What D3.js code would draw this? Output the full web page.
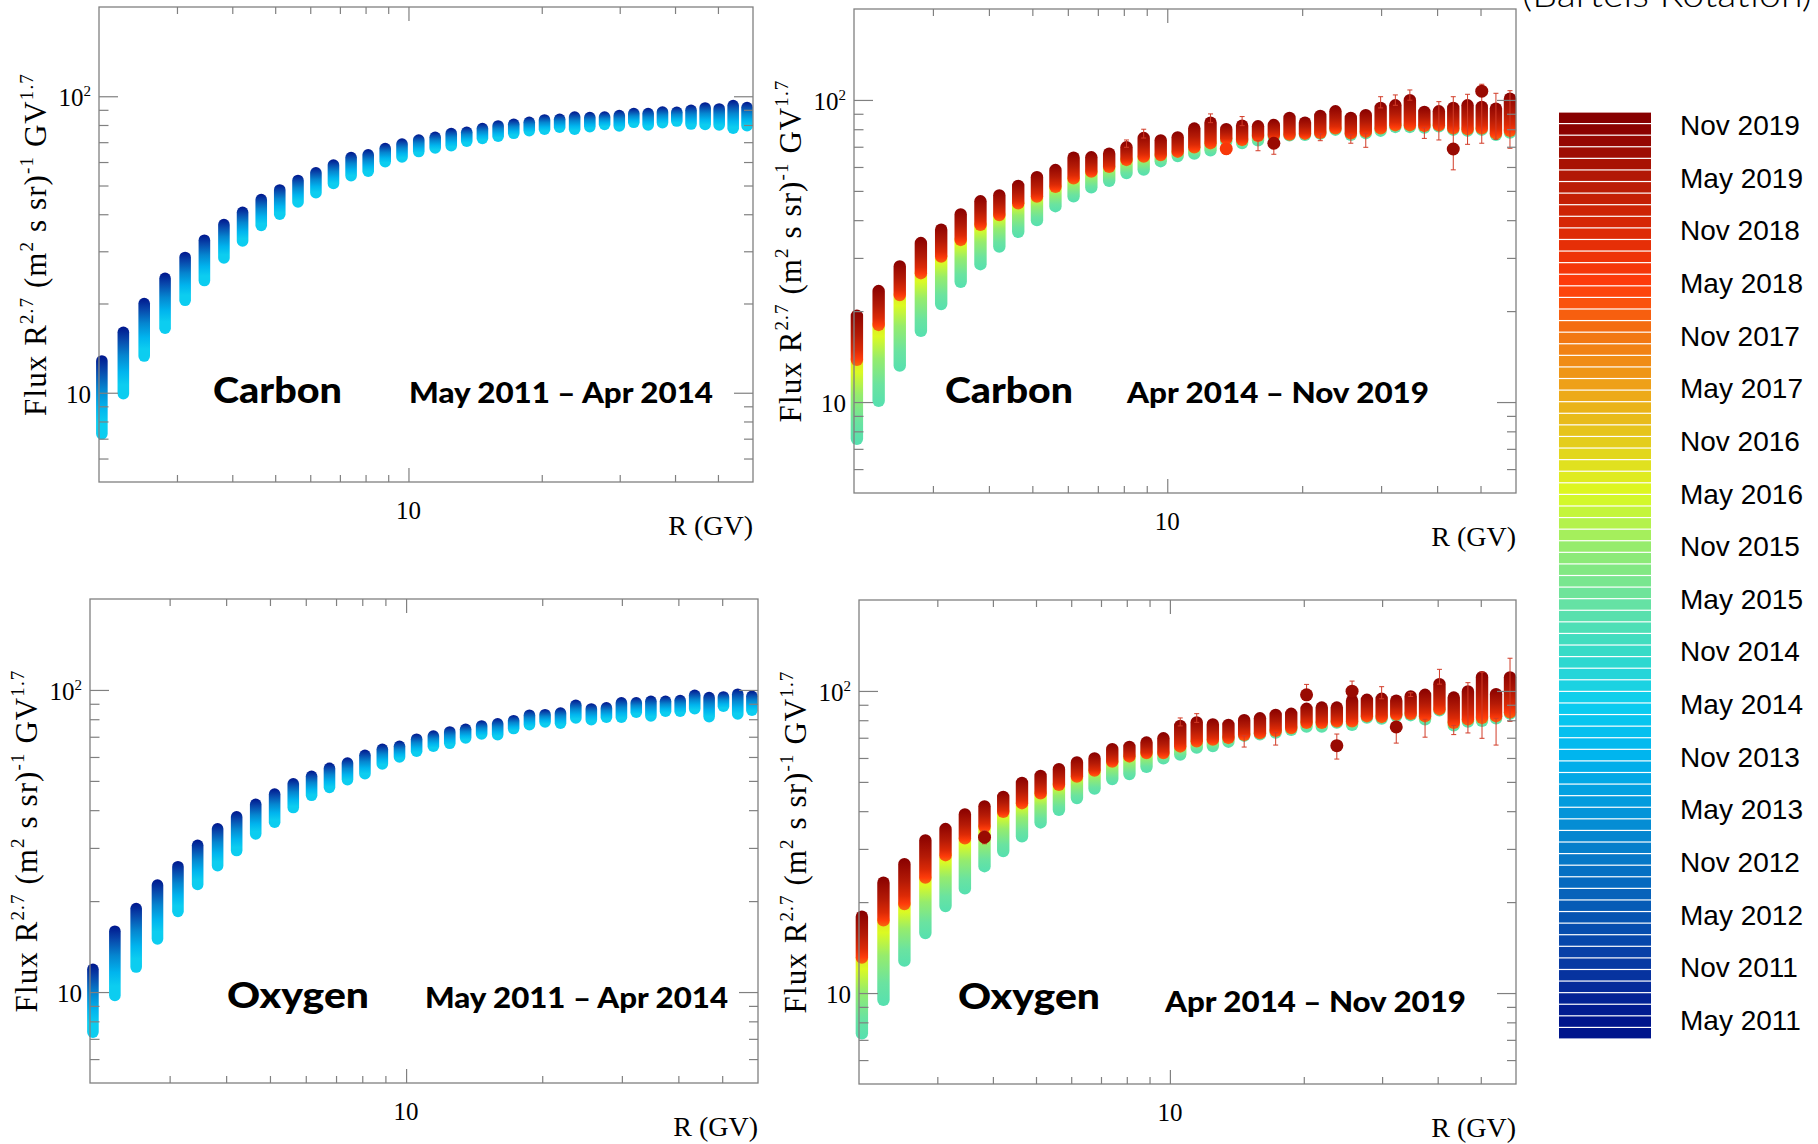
<!DOCTYPE html>
<meta charset="utf-8">
<style>
body { margin: 0; background: #fff; }
</style>
<body>
<script src="https://d3js.org/d3.v7.min.js"></script>
<script>
// rigidity bin centres (GV), shared by all four panels
var rigidity = [2.03, 2.27, 2.53, 2.82, 3.13, 3.46, 3.83, 4.22, 4.65, 5.12,
                5.63, 6.18, 6.77, 7.42, 8.11, 8.86, 9.67, 10.55, 11.49, 12.49,
                13.54, 14.69, 15.94, 17.29, 18.74, 20.29, 21.95, 23.73, 25.68, 27.73,
                29.93, 32.28, 34.78, 37.47, 40.37, 43.47, 46.78, 50.32, 54.12, 58.17];

// May 2011 - Apr 2014 : highest (earliest) and lowest (latest) flux of each bin
var carbonEarlyHi = [12.8, 16.0, 20.0, 24.3, 28.6, 32.7, 36.9, 40.6, 44.8, 48.3,
                     52.0, 55.2, 58.6, 62.1, 63.5, 66.6, 69.0, 71.2, 72.7, 74.8,
                     75.6, 77.8, 79.4, 80.4, 81.7, 83.2, 83.6, 85.1, 84.7, 85.1,
                     86.0, 87.4, 87.4, 88.5, 88.3, 89.7, 91.3, 90.6, 93.0, 91.6];
var carbonEarlyLo = [7.27, 9.93, 13.3, 16.5, 20.5, 23.9, 28.5, 32.5, 36.7, 40.0,
                     44.0, 47.3, 50.8, 54.0, 55.9, 60.2, 62.4, 65.1, 66.9, 68.1,
                     70.6, 72.1, 73.3, 75.0, 76.6, 77.4, 78.6, 77.4, 79.0, 80.4,
                     79.4, 81.7, 80.0, 81.5, 82.5, 80.6, 80.3, 80.0, 78.0, 79.6];
var oxygenEarlyHi = [11.9, 15.9, 18.9, 22.6, 26.0, 30.6, 34.7, 38.0, 41.8, 45.2,
                     48.9, 51.8, 55.0, 57.3, 60.8, 63.6, 65.1, 68.7, 70.4, 72.6,
                     74.1, 76.0, 77.3, 79.1, 82.5, 82.8, 83.9, 89.0, 86.5, 87.2,
                     90.6, 90.6, 91.7, 91.7, 92.2, 96.0, 94.3, 94.8, 96.8, 95.3];
var oxygenEarlyLo = [7.37, 9.75, 12.1, 15.0, 18.5, 22.7, 26.2, 29.4, 33.4, 36.5,
                     40.8, 44.8, 47.6, 50.5, 52.8, 56.9, 60.0, 62.7, 65.1, 66.6,
                     69.4, 71.5, 71.1, 74.5, 76.7, 78.4, 77.6, 80.8, 79.7, 81.2,
                     81.2, 84.4, 82.0, 85.0, 85.0, 86.7, 81.6, 88.3, 83.3, 85.7];

// Apr 2014 - Nov 2019 : top (2019), boundary between 2014-16 and 2016-19 points, bottom (2014-15)
var carbonLateHi = [19.3, 23.3, 28.1, 33.6, 37.2, 41.8, 46.2, 48.3, 51.9, 55.5,
                    58.6, 64.4, 64.6, 66.4, 69.7, 74.8, 73.5, 75.2, 80.4, 84.1,
                    80.0, 82.2, 81.8, 82.6, 87.2, 84.1, 88.5, 91.7, 87.2, 89.0,
                    94.1, 96.0, 99.8, 91.3, 91.7, 94.1, 96.0, 94.8, 93.6, 101.0];
var carbonLateMid = [13.8, 18.0, 22.6, 26.7, 30.3, 34.4, 38.6, 41.6, 45.5, 47.9,
                     51.6, 55.0, 57.9, 60.1, 63.3, 64.9, 65.7, 67.4, 69.7, 71.9,
                     74.5, 73.7, 76.0, 76.5, 76.8, 77.3, 77.8, 80.5, 77.5, 78.5,
                     80.5, 82.5, 82.5, 82.0, 82.5, 80.5, 80.0, 80.5, 77.5, 79.0];
var carbonLateLo = [7.56, 10.1, 13.2, 17.2, 21.1, 25.0, 28.6, 32.7, 36.6, 40.0,
                    44.5, 48.0, 51.4, 54.0, 57.3, 58.8, 62.7, 65.2, 66.4, 68.1,
                    73.0, 72.0, 73.5, 75.4, 76.4, 76.7, 77.3, 79.7, 76.7, 77.6,
                    79.1, 81.4, 81.4, 81.0, 81.8, 79.7, 79.1, 79.7, 76.7, 78.0];
var oxygenLateHi = [17.9, 23.2, 26.7, 32.0, 34.9, 39.0, 41.5, 44.6, 49.6, 52.3,
                    55.1, 58.0, 59.8, 64.2, 65.3, 67.5, 69.7, 76.6, 78.7, 77.5,
                    77.2, 80.0, 81.2, 83.3, 84.0, 87.3, 88.1, 88.1, 92.8, 93.5,
                    94.2, 92.8, 95.9, 97.1, 105.3, 95.1, 99.6, 111.1, 97.6, 110.9];
var oxygenLateMid = [13.1, 17.4, 19.7, 24.1, 28.6, 32.5, 35.5, 39.8, 42.5, 45.8,
                     48.9, 52.1, 54.5, 58.4, 60.7, 62.3, 62.3, 65.5, 68.1, 69.0,
                     69.9, 71.6, 72.5, 73.8, 75.4, 78.4, 78.4, 79.3, 79.3, 82.5,
                     82.0, 83.5, 84.0, 82.5, 87.0, 78.4, 80.5, 81.4, 82.5, 85.0];
var oxygenLateLo = [7.36, 9.50, 12.8, 15.8, 19.4, 22.2, 26.3, 29.5, 33.0, 36.7,
                    40.4, 44.2, 47.5, 51.1, 53.1, 56.1, 59.8, 61.6, 64.9, 65.7,
                    67.9, 71.1, 71.8, 72.8, 74.3, 76.2, 76.2, 78.6, 77.2, 81.6,
                    81.0, 82.7, 83.1, 80.6, 86.3, 76.9, 79.2, 79.6, 81.2, 84.1];

// error bars [R, from, to] and isolated points [R, flux, period index on the colour bar]
var carbonLateWhiskers = [[8.11, 69.7, 73.7], [8.86, 74.8, 80.0], [12.49, 84.1, 89.9], [13.54, 66.1, 69.0],
                          [14.69, 82.2, 88.1], [15.94, 67.9, 73.5], [17.29, 66.1, 71.9], [21.95, 73.3, 77.3],
                          [25.68, 71.9, 76.7], [27.73, 69.7, 77.6], [29.93, 94.1, 102.5], [32.28, 96.0, 103.9],
                          [34.78, 99.8, 107.9], [37.47, 74.6, 81.0], [40.37, 73.7, 98.7], [43.47, 58.7, 102.5],
                          [46.78, 71.3, 104.4], [50.32, 71.9, 112.7], [54.12, 74.1, 105.2], [58.17, 69.2, 107.3]];
var carbonLateOutliers = [[13.54, 69.0, 14.2], [17.29, 71.9, 16.6], [43.47, 68.8, 16.6], [50.32, 106.9, 16.6]];
var oxygenLateWhiskers = [[3.83, 31.2, 34.5], [10.55, 76.6, 81.4], [11.49, 78.7, 84.1], [14.69, 65.2, 71.1],
                          [17.29, 66.2, 72.8], [20.29, 97.1, 105.1], [23.73, 59.5, 72.0], [25.68, 99.8, 107.8],
                          [29.93, 94.2, 103.3], [32.28, 67.2, 76.0], [34.78, 95.9, 98.6], [37.47, 70.3, 80.6],
                          [40.37, 105.3, 117.9], [43.47, 71.7, 76.9], [46.78, 72.6, 106.5], [50.32, 69.7, 115.5],
                          [54.12, 66.2, 81.2], [58.17, 79.3, 128.3]];
var oxygenLateOutliers = [[3.83, 32.8, 16.6], [20.29, 97.1, 16.6], [23.73, 65.9, 16.6], [25.68, 99.8, 16.6], [32.28, 76.0, 16.6]];

// colour bar
var cbLabels = ["May 2011", "Nov 2011", "May 2012", "Nov 2012", "May 2013", "Nov 2013",
                "May 2014", "Nov 2014", "May 2015", "Nov 2015", "May 2016", "Nov 2016",
                "May 2017", "Nov 2017", "May 2018", "Nov 2018", "May 2019", "Nov 2019"];
var cbColors = ["#00158c", "#0838a2", "#0755b3", "#0676c6", "#0496da", "#00b4ee",
                "#0ccdf0", "#36dbc8", "#6ae3a0", "#96ec6c", "#dcfa22", "#e4cc1c",
                "#eea418", "#f27612", "#ff3c0a", "#dc2a06", "#b41a06", "#870000"];

var xTicksMinor = [3, 4, 5, 6, 7, 8, 9, 20, 30, 40, 50],
    xTicksMajor = [10],
    yTicksMinor = [6, 7, 8, 9, 20, 30, 40, 50, 60, 70, 80, 90],
    yTicksMajor = [10, 100];

var frameColour = "#808080",
    serif = "'Liberation Serif', 'DejaVu Serif', serif",
    sans = "'Liberation Sans', Arial, sans-serif";

var svg = d3.select("body").append("svg")
    .attr("width", 1818)
    .attr("height", 1144);
var defs = svg.append("defs");

var colour = d3.scaleLinear()
    .domain(d3.range(cbColors.length))
    .range(cbColors)
    .clamp(true);

function gradient(id, stops) {
  var gr = defs.append("linearGradient").attr("id", id)
      .attr("x1", 0).attr("y1", 0).attr("x2", 0).attr("y2", 1);
  gr.selectAll("stop").data(stops).enter().append("stop")
      .attr("offset", function(d) { return d[0]; })
      .attr("stop-color", function(d) { return colour(d[1]); });
}
gradient("early", [[0, 0], [0.18, 1.5], [0.4, 3.5], [0.62, 5], [0.8, 6], [1, 6]]);
gradient("lateHigh", [[0, 17], [0.45, 16], [0.72, 15], [0.88, 14], [1, 13.2]]);
gradient("lateLow", [[0, 10.6], [0.2, 10], [0.45, 9], [0.75, 8], [1, 7.6]]);

var panels = [
  {frame: [99, 753, 7, 482], hi: carbonEarlyHi, lo: carbonEarlyLo,
   name: "Carbon", span: "May 2011 \u2013 Apr 2014", nameX: 213, nameW: 129, spanX: 409, spanW: 304, nameY: 403, spanY: 403},
  {frame: [854, 1516, 9, 493], hi: carbonLateHi, mid: carbonLateMid, lo: carbonLateLo,
   whiskers: carbonLateWhiskers, outliers: carbonLateOutliers,
   name: "Carbon", span: "Apr 2014 \u2013 Nov 2019", nameX: 945, nameW: 128, spanX: 1127, spanW: 302, nameY: 403, spanY: 403},
  {frame: [90, 758, 599, 1083], hi: oxygenEarlyHi, lo: oxygenEarlyLo,
   name: "Oxygen", span: "May 2011 \u2013 Apr 2014", nameX: 227, nameW: 142, spanX: 425, spanW: 303, nameY: 1008, spanY: 1008},
  {frame: [859, 1516, 600, 1084], hi: oxygenLateHi, mid: oxygenLateMid, lo: oxygenLateLo,
   whiskers: oxygenLateWhiskers, outliers: oxygenLateOutliers,
   name: "Oxygen", span: "Apr 2014 \u2013 Nov 2019", nameX: 958, nameW: 142, spanX: 1165, spanW: 301, nameY: 1009, spanY: 1012}
];

// text with raised parts: parts = [[string, isSuperscript], ...]
function richText(sel, parts, supSize, rise) {
  parts.forEach(function(p, i) {
    var prevSup = i > 0 && parts[i - 1][1];
    var ts = sel.append("tspan").text(p[0]);
    if (p[1]) ts.attr("dy", -rise).attr("font-size", supSize);
    else if (prevSup) ts.attr("dy", rise);
  });
  return sel;
}

panels.forEach(function(p) {
  var l = p.frame[0], r = p.frame[1], t = p.frame[2], b = p.frame[3];
  var x = d3.scaleLog().domain([2, 60]).range([l, r]);
  var y = d3.scaleLog().domain([5, 200]).range([b, t]);
  var g = svg.append("g");
  var late = !!p.mid;
  var rad = late ? 6.2 : 5.8;

  var cols = g.append("g").selectAll("g")
      .data(rigidity)
    .enter().append("g");

  if (late) {
    cols.append("rect")
        .attr("x", function(d) { return x(d) - rad; })
        .attr("y", function(d, i) { return y(p.mid[i]) - rad; })
        .attr("width", 2 * rad)
        .attr("height", function(d, i) { return y(p.lo[i]) - y(p.mid[i]) + 2 * rad; })
        .attr("rx", rad)
        .attr("fill", "url(#lateLow)");
    cols.append("rect")
        .attr("x", function(d) { return x(d) - rad; })
        .attr("y", function(d, i) { return y(p.hi[i]) - rad; })
        .attr("width", 2 * rad)
        .attr("height", function(d, i) { return y(p.mid[i]) - y(p.hi[i]) + 2 * rad; })
        .attr("rx", rad)
        .attr("fill", "url(#lateHigh)");
  } else {
    cols.append("rect")
        .attr("x", function(d) { return x(d) - rad; })
        .attr("y", function(d, i) { return y(p.hi[i]) - rad; })
        .attr("width", 2 * rad)
        .attr("height", function(d, i) { return y(p.lo[i]) - y(p.hi[i]) + 2 * rad; })
        .attr("rx", rad)
        .attr("fill", "url(#early)");
  }

  if (p.whiskers) {
    var wk = g.append("g").attr("stroke", "#d23c28").attr("stroke-width", 1)
      .selectAll("g").data(p.whiskers).enter().append("g");
    wk.append("line")
        .attr("x1", function(d) { return x(d[0]); }).attr("x2", function(d) { return x(d[0]); })
        .attr("y1", function(d) { return y(d[1]); }).attr("y2", function(d) { return y(d[2]); });
    wk.append("line")
        .attr("x1", function(d) { return x(d[0]) - 2.5; }).attr("x2", function(d) { return x(d[0]) + 2.5; })
        .attr("y1", function(d) { return y(d[1]); }).attr("y2", function(d) { return y(d[1]); });
    wk.append("line")
        .attr("x1", function(d) { return x(d[0]) - 2.5; }).attr("x2", function(d) { return x(d[0]) + 2.5; })
        .attr("y1", function(d) { return y(d[2]); }).attr("y2", function(d) { return y(d[2]); });
  }
  if (p.outliers) {
    g.append("g").selectAll("circle").data(p.outliers).enter().append("circle")
        .attr("cx", function(d) { return x(d[0]); })
        .attr("cy", function(d) { return y(d[1]); })
        .attr("r", rad + 0.3)
        .attr("fill", function(d) { return colour(d[2]); });
  }

  // ROOT style frame with ticks on every side
  function ticks(gen, tx, ty, vals, size) {
    g.append("g")
        .attr("transform", "translate(" + tx + "," + ty + ")")
        .call(gen.tickValues(vals).tickSize(size).tickSizeOuter(0).tickFormat(""))
        .call(function(s) { s.select(".domain").remove(); })
      .selectAll("line")
        .attr("stroke", frameColour)
        .attr("stroke-width", 1.2);
  }
  ticks(d3.axisBottom(x), 0, b, xTicksMinor, -7);
  ticks(d3.axisBottom(x), 0, b, xTicksMajor, -14);
  ticks(d3.axisTop(x), 0, t, xTicksMinor, -7);
  ticks(d3.axisTop(x), 0, t, xTicksMajor, -14);
  ticks(d3.axisLeft(y), l, 0, yTicksMinor, -9.5);
  ticks(d3.axisLeft(y), l, 0, yTicksMajor, -19);
  ticks(d3.axisRight(y), r, 0, yTicksMinor, -9);
  ticks(d3.axisRight(y), r, 0, yTicksMajor, -19);

  g.append("rect")
      .attr("x", l).attr("y", t)
      .attr("width", r - l).attr("height", b - t)
      .attr("fill", "none")
      .attr("stroke", frameColour)
      .attr("stroke-width", 1.3);

  // tick labels
  g.append("text")
      .attr("x", x(10)).attr("y", b + 37)
      .attr("text-anchor", "middle")
      .attr("font-family", serif).attr("font-size", 25)
      .text("10");
  g.append("text")
      .attr("x", l - 8).attr("y", y(10) + 10)
      .attr("text-anchor", "end")
      .attr("font-family", serif).attr("font-size", 25)
      .text("10");
  richText(g.append("text")
      .attr("x", l - 8).attr("y", y(100) + 10)
      .attr("text-anchor", "end")
      .attr("font-family", serif).attr("font-size", 25),
      [["10", 0], ["2", 1]], 15, 10);

  // axis titles
  g.append("text")
      .attr("x", r).attr("y", b + 53)
      .attr("text-anchor", "end")
      .attr("font-family", serif).attr("font-size", 28)
      .text("R (GV)");
  richText(g.append("text")
      .attr("transform", "translate(" + (l - 53) + "," + ((t + b) / 2) + ") rotate(-90)")
      .attr("text-anchor", "middle")
      .attr("font-family", serif).attr("font-size", 31)
      .attr("letter-spacing", 1.1),
      [["Flux R", 0], ["2.7", 1], [" (m", 0], ["2", 1], [" s sr)", 0], ["-1", 1], [" GV", 0], ["1.7", 1]],
      19, 13);

  // species and period
  g.append("text")
      .attr("x", p.nameX).attr("y", p.nameY)
      .attr("font-family", "Lato, 'Open Sans', sans-serif").attr("font-weight", 900)
      .attr("font-size", 36)
      .attr("textLength", p.nameW).attr("lengthAdjust", "spacingAndGlyphs")
      .text(p.name);
  g.append("text")
      .attr("x", p.spanX).attr("y", p.spanY)
      .attr("font-family", "Lato, 'Open Sans', sans-serif").attr("font-weight", 900)
      .attr("font-size", 29)
      .attr("textLength", p.spanW).attr("lengthAdjust", "spacingAndGlyphs")
      .text(p.span);
});

// colour bar of the Bartels rotation periods
var cbTop = 112, cbBottom = 1039, cbLeft = 1559, cbWidth = 92, nStripes = 80;
var cbIndex = d3.scaleLinear().domain([cbBottom, cbTop]).range([-0.36, 17.25]);
var cbLabelY = d3.scaleLinear().domain([0, cbLabels.length - 1]).range([1030, 135]);
var stripeH = (cbBottom - cbTop) / nStripes;

svg.append("g").selectAll("rect")
    .data(d3.range(nStripes))
  .enter().append("rect")
    .attr("x", cbLeft)
    .attr("y", function(i) { return cbTop + i * stripeH + 0.6; })
    .attr("width", cbWidth)
    .attr("height", stripeH - 1.2)
    .attr("fill", function(i) { return colour(cbIndex(cbTop + (i + 0.5) * stripeH)); });

svg.append("g").selectAll("text")
    .data(cbLabels)
  .enter().append("text")
    .attr("x", 1680)
    .attr("y", function(d, i) { return cbLabelY(i); })
    .attr("font-family", sans).attr("font-size", 28)
    .text(function(d) { return d; });

// title of the colour bar, cut by the top edge as in the original figure
svg.append("text")
    .attr("x", 1522).attr("y", 7)
    .attr("font-family", "Lato, " + sans).attr("font-weight", 300)
    .attr("font-size", 36)
    .attr("textLength", 290).attr("lengthAdjust", "spacingAndGlyphs")
    .text("(Bartels Rotation)");
</script>
